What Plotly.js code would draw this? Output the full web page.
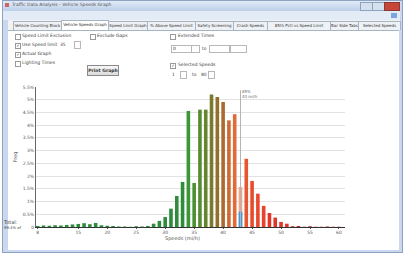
<!DOCTYPE html>
<html><head><meta charset="utf-8">
<script src="https://cdn.plot.ly/plotly-3.0.1.min.js"></script>
<style>
body{margin:0;width:405px;height:264px;overflow:hidden;background:#fff;font-family:"DejaVu Sans",sans-serif;position:relative;color:#333}
.a{position:absolute;white-space:nowrap}
.t{font-size:4.5px;color:#444}
.cb{position:absolute;width:4px;height:4px;border:1px solid #9a9a9a;background:#fff;font-size:4px;line-height:4px;text-align:center;color:#333}
.inp{position:absolute;height:6px;border:1px solid #b8b8b8;background:#fff;font-size:4.5px;line-height:6px;padding-left:1px}
.tab{position:absolute;top:21px;height:8px;border:1px solid #a9b4c2;border-bottom:none;background:#eef1f5;font-size:4px;line-height:8px;text-align:center;color:#333;overflow:hidden}
#plot{position:absolute;left:0;top:0;width:405px;height:264px}
</style></head>
<body>
<!-- window chrome -->
<div class="a" style="left:2px;top:0;width:399px;height:251px;background:#c9d8ee;border:1px solid #8ea3c2"></div>
<div class="a" style="left:3px;top:1px;width:397px;height:10px;background:linear-gradient(#e2ebf7,#bccfe9)"></div>
<div class="a t" style="left:5px;top:3px;width:4px;height:4px;background:#c66;"></div>
<div class="a t" style="left:12px;top:2px;color:#555">Traffic Data Analysis - Vehicle Speeds Graph</div>
<div class="a" style="left:360px;top:2px;width:11px;height:7px;background:#d5e0ef;border:1px solid #8ea3c2"></div>
<div class="a" style="left:372px;top:2px;width:11px;height:7px;background:#d5e0ef;border:1px solid #8ea3c2"></div>
<div class="a" style="left:384px;top:2px;width:14px;height:7px;background:#c8453a;border:1px solid #8a3a33"></div>
<div class="a" style="left:3px;top:11px;width:397px;height:9px;background:#e3ebf6"></div>
<div class="a" style="left:391px;top:13px;width:6px;height:5px;background:#7aa6dc"></div>
<div class="a" style="left:8px;top:20px;width:392px;height:10px;background:#f2f2f2"></div>
<div class="tab" style="left:13px;width:47px">Vehicle Counting Block</div>
<div class="tab" style="left:61px;width:46px;top:20px;height:10px;background:#fff">Vehicle Speeds Graph</div>
<div class="tab" style="left:108px;width:38px">Speed Limit Graph</div>
<div class="tab" style="left:147px;width:47px">% Above Speed Limit</div>
<div class="tab" style="left:195px;width:37px">Safety Screening</div>
<div class="tab" style="left:233px;width:33px">Crash Speeds</div>
<div class="tab" style="left:267px;width:62px">85th Pctl vs Speed Limit</div>
<div class="tab" style="left:330px;width:27px">Bar Side Tabs</div>
<div class="tab" style="left:358px;width:41px">Selected Speeds</div>
<div class="a" style="left:8px;top:30px;width:391px;height:219px;background:#fff;border-top:1px solid #a9b4c2"></div>

<!-- controls -->
<div class="cb" style="left:15px;top:34px"></div><div class="a t" style="left:22px;top:33px">Speed Limit Exclusion</div>
<div class="cb" style="left:90px;top:34px"></div><div class="a t" style="left:97px;top:33px">Exclude Gaps</div>
<div class="cb" style="left:170px;top:34px"></div><div class="a t" style="left:178px;top:33px">Extended Times</div>
<div class="cb" style="left:15px;top:43px">✓</div><div class="a t" style="left:22px;top:42px">Use Speed limit</div>
<div class="a t" style="left:60px;top:42px">35</div>
<div class="inp" style="left:74px;top:41px;width:4px"></div>
<div class="inp" style="left:171px;top:45px;width:18px">0</div><div class="inp" style="left:191px;top:45px;width:6px"></div>
<div class="a t" style="left:202px;top:46px">to</div>
<div class="inp" style="left:209px;top:45px;width:18px"></div><div class="inp" style="left:230px;top:45px;width:14px"></div>
<div class="cb" style="left:15px;top:52px">✓</div><div class="a t" style="left:22px;top:51px">Actual Graph</div>
<div class="cb" style="left:15px;top:61px"></div><div class="a t" style="left:22px;top:60px">Lighting Times</div>
<div class="cb" style="left:170px;top:63px">✓</div><div class="a t" style="left:178px;top:62px">Selected Speeds</div>
<div class="a" style="left:87px;top:65px;width:30px;height:9px;background:linear-gradient(#f7f7f7,#dcdcdc);border:1px solid #8a8a8a;font-size:4.5px;line-height:9px;text-align:center;font-weight:bold">Print Graph</div>
<div class="a t" style="left:172px;top:72px">1</div><div class="inp" style="left:180px;top:71px;width:4px"></div>
<div class="a t" style="left:192px;top:72px">to</div>
<div class="a t" style="left:201px;top:72px">80</div><div class="inp" style="left:208px;top:71px;width:4px"></div>

<div class="a t" style="left:4px;top:219px;font-size:5px">Total:</div>
<div class="a t" style="left:4px;top:225px;font-size:3.8px">99.4% of</div>

<div id="plot"></div>
<script>
// data
var speeds = [8,9,10,11,12,13,14,15,16,17,18,19,20,21,22,23,24,25,26,27,28,29,30,31,32,33,34,35,36,37,38,39,40,41,42,43,44,45,46,47,48,49,50,51,52,53,54,55,56,57,58,59,60];
var shares = [0.04,0.06,0.05,0.07,0.06,0.08,0.10,0.12,0.15,0.11,0.16,0.07,0.05,0.04,0.02,0.02,0.01,0.03,0.02,0.04,0.13,0.24,0.39,0.72,1.22,1.77,4.56,1.73,4.61,4.61,5.21,5.11,4.91,4.19,4.43,1.57,2.68,1.81,1.31,0.83,0.55,0.37,0.20,0.13,0.03,0.04,0.01,0.03,0.01,0.01,0.02,0.01,0.01];
var pctSpeed = [43];
var pctShare = [0.6];
var pctLabel = "85%<br>43 mi/h";
var yTickVals = [0,0.5,1,1.5,2,2.5,3,3.5,4,4.5,5,5.5];
var yTickText = ["0","0.5%","1%","1.5%","2%","2.5%","3%","3.5%","4%","4.5%","5%","5.5%"];
var xTickVals = [8,15,20,25,30,35,40,45,50,55,60];
var xTickText = ["8","15","20","25","30","35","40","45","50","55","60"];

function colorFor(s){
  if (s <= 33) return '#2f8c3c';
  var map = {34:'#3a9735',35:'#4a9132',36:'#568b30',37:'#65842e',38:'#7a7a2d',39:'#916f2d',40:'#ab6a2f',41:'#cf6a33',42:'#e26a36',43:'#f2a486',44:'#e8562f',45:'#e94c2c',46:'#e8482b',47:'#e6432a'};
  if (map[s]) return map[s];
  if (s <= 51) return '#e0352a';
  return '#b92424';
}
var colors = speeds.map(colorFor);
var f = {family:'DejaVu Sans, sans-serif', size:4.5, color:'#555'};

Plotly.newPlot('plot', [
  {type:'bar', x:speeds, y:shares, marker:{color:colors}, width:0.62, hoverinfo:'none'},
  {type:'bar', x:pctSpeed, y:pctShare, marker:{color:'#3b9bd6'}, width:0.62, hoverinfo:'none'}
], {
  width:405, height:264, showlegend:false, barmode:'overlay',
  paper_bgcolor:'rgba(0,0,0,0)', plot_bgcolor:'rgba(0,0,0,0)',
  margin:{l:36, r:60, t:87, b:37.3, pad:0},
  font:f,
  xaxis:{range:[7.7,61.04], tickvals:xTickVals, ticktext:xTickText, showgrid:false, zeroline:false,
         showline:true, linecolor:'#333', linewidth:1, ticks:'outside', ticklen:1, tickcolor:'#555', tickfont:f},
  yaxis:{range:[0,5.5], tickvals:yTickVals, ticktext:yTickText, showgrid:true, gridcolor:'#e2e2e2', gridwidth:1,
         zeroline:false, showline:true, linecolor:'#666', linewidth:1, ticks:'', tickfont:f,
         title:{text:'Freq', font:{family:'DejaVu Sans, sans-serif', size:5, color:'#555'}, standoff:4}},
  shapes:[{type:'line', xref:'x', yref:'y', x0:pctSpeed[0], x1:pctSpeed[0], y0:0, y1:5.37, line:{color:'#b5b5b5', width:1}}],
  annotations:[
    {xref:'x', yref:'y', x:pctSpeed[0], y:5.5, xanchor:'left', yanchor:'top', xshift:0, text:pctLabel, showarrow:false, align:'left', font:{family:'DejaVu Sans, sans-serif', size:4, color:'#666'}},
    {xref:'x', yref:'paper', x:33, y:-0.085, xanchor:'center', yanchor:'middle', text:'Speeds (mi/h)', showarrow:false, font:{family:'DejaVu Sans, sans-serif', size:5, color:'#555'}}
  ]
}, {staticPlot:true, displayModeBar:false});
</script>
</body></html>
